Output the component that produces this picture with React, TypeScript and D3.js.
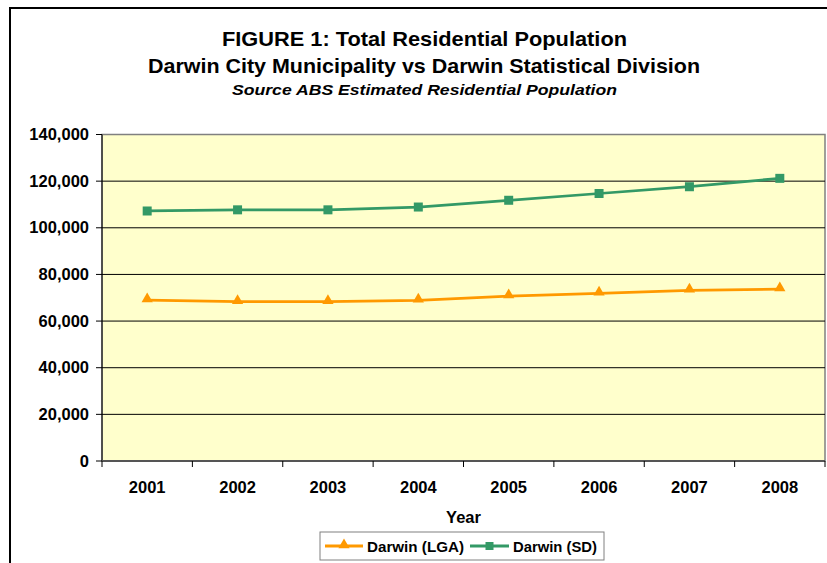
import React from "react";
import * as d3 from "d3";

const years = ["2001", "2002", "2003", "2004", "2005", "2006", "2007", "2008"];
const lgaValues = [69000, 68300, 68300, 68900, 70700, 71900, 73200, 73700];
const sdValues = [107200, 107700, 107700, 108900, 111800, 114700, 117600, 121200];
const yTicks = [0, 20000, 40000, 60000, 80000, 100000, 120000, 140000];
const seriesNames = ["Darwin (LGA)", "Darwin (SD)"];

const ORANGE = "#FF9900";
const GREEN = "#339966";
const FONT = "'Liberation Sans', Arial, sans-serif";

export default function App() {
  const W = 827, H = 563;
  const x = d3.scaleBand<string>().domain(years).range([102, 825]);
  const y = d3.scaleLinear().domain([0, 140000]).range([461, 134.5]);
  const cx = (d: string) => (x(d) as number) + x.bandwidth() / 2;
  const line = d3.line<number>().x((_, i) => cx(years[i])).y((v) => y(v));
  const fmt = d3.format(",");
  const tri = d3.symbol().type(d3.symbolTriangle).size(55)();

  return (
    <svg width={W} height={H} style={{ position: "absolute", left: 0, top: 0, background: "#fff" }} fontFamily={FONT}>
      <rect x={10} y={8} width={900} height={700} fill="#fff" stroke="#000" strokeWidth={2} />
      <text x={424.5} y={46} textAnchor="middle" fontSize={20.5} fontWeight="bold" textLength={405} lengthAdjust="spacingAndGlyphs">FIGURE 1: Total Residential Population</text>
      <text x={424} y={73} textAnchor="middle" fontSize={20.5} fontWeight="bold" textLength={552} lengthAdjust="spacingAndGlyphs">Darwin City Municipality vs Darwin Statistical Division</text>
      <text x={424.5} y={95} textAnchor="middle" fontSize={15} fontWeight="bold" fontStyle="italic" textLength={385} lengthAdjust="spacingAndGlyphs">Source ABS Estimated Residential Population</text>

      <rect x={102} y={134.5} width={723} height={326.5} fill="#FFFFCC" stroke="#808080" strokeWidth={1.5} />
      {yTicks.map((t) => (
        <g key={t}>
          {t > 0 && t < 140000 && <line x1={102} x2={825} y1={y(t)} y2={y(t)} stroke="#000" strokeWidth={1} />}
          <line x1={96} x2={102} y1={y(t)} y2={y(t)} stroke="#000" strokeWidth={1} />
          <text x={89} y={y(t) + 5.5} textAnchor="end" fontSize={16.5} fontWeight="bold">{fmt(t)}</text>
        </g>
      ))}
      <line x1={102} x2={102} y1={134.5} y2={461} stroke="#000" strokeWidth={1} />
      <line x1={102} x2={825} y1={461} y2={461} stroke="#555" strokeWidth={2} />
      {years.map((yr) => (
        <g key={yr}>
          <line x1={x(yr) as number} x2={x(yr) as number} y1={461} y2={467} stroke="#000" strokeWidth={1} />
          <text x={cx(yr)} y={493} textAnchor="middle" fontSize={16.5} fontWeight="bold">{yr}</text>
        </g>
      ))}
      <line x1={825} x2={825} y1={461} y2={467} stroke="#000" strokeWidth={1} />
      <text x={463.5} y={523} textAnchor="middle" fontSize={16.5} fontWeight="bold">Year</text>

      <path d={line(sdValues) || ""} fill="none" stroke={GREEN} strokeWidth={2.75} />
      {sdValues.map((v, i) => (
        <rect key={i} x={cx(years[i]) - 4.5} y={y(v) - 4.5} width={9} height={9} fill={GREEN} />
      ))}
      <path d={line(lgaValues) || ""} fill="none" stroke={ORANGE} strokeWidth={2.75} />
      {lgaValues.map((v, i) => (
        <path key={i} d={tri || ""} transform={`translate(${cx(years[i])},${y(v) - 1})`} fill={ORANGE} />
      ))}

      <rect x={320} y={532} width={284} height={28} fill="#fff" stroke="#808080" strokeWidth={1} />
      <line x1={325} x2={363} y1={546} y2={546} stroke={ORANGE} strokeWidth={3} />
      <path d={tri || ""} transform="translate(344,545)" fill={ORANGE} />
      <text x={367} y={551.5} fontSize={14} fontWeight="bold" textLength={97} lengthAdjust="spacingAndGlyphs">{seriesNames[0]}</text>
      <line x1={470} x2={509} y1={546} y2={546} stroke={GREEN} strokeWidth={3} />
      <rect x={485.5} y={542} width={8} height={8} fill={GREEN} />
      <text x={513} y={551.5} fontSize={14} fontWeight="bold" textLength={84} lengthAdjust="spacingAndGlyphs">{seriesNames[1]}</text>
    </svg>
  );
}
